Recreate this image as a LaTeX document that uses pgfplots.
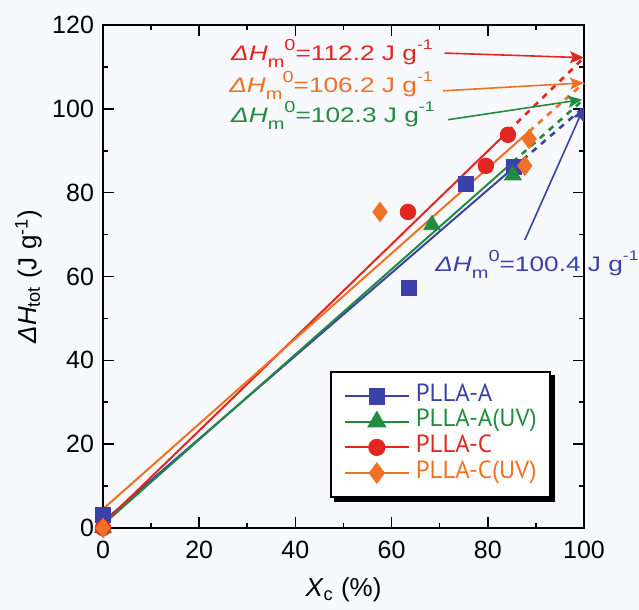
\documentclass[border=0pt]{standalone}
\usepackage{pgfplots}
\pgfplotsset{compat=1.18}
\usepackage{amsmath}
\usepackage{graphicx}
\usepackage{fontspec}
\setmainfont{Liberation Sans}
\newfontfamily\legendfont{PT Sans}
\usetikzlibrary{arrows.meta}

\definecolor{cblue}{RGB}{58,66,168}
\definecolor{cgreen}{RGB}{34,139,64}
\definecolor{cred}{RGB}{228,38,32}
\definecolor{corange}{RGB}{240,112,36}
\definecolor{bgtint}{RGB}{248,249,252}

\pgfdeclarelayer{bg}
\pgfdeclarelayer{shadowlayer}
\pgfsetlayers{bg,shadowlayer,main}

% Delta H_m^0 = value J g^-1, set a little wide
\newcommand{\dHm}[1]{\scalebox{1.25}[1]{\textit{ΔH}\raisebox{-0.33em}{\fontsize{8}{8}\selectfont m}\raisebox{0.5em}{\fontsize{8}{8}\selectfont 0}=#1 J g\raisebox{0.55em}{\fontsize{7}{7}\selectfont -1}}}

\begin{document}
\begin{tikzpicture}[x=1pt,y=1pt]
\begin{pgfonlayer}{bg}
\path[use as bounding box, fill=bgtint] (-51.5,-41) rectangle (268,264);
\end{pgfonlayer}
\begin{axis}[
  at={(0,0)}, anchor=south west,
  scale only axis, width=240.5pt, height=251.5pt,
  xmin=0, xmax=100, ymin=0, ymax=120,
  xtick={0,20,...,100}, ytick={0,20,...,120},
  minor x tick num=1, minor y tick num=1,
  tick align=inside,
  major tick length=5.5pt, minor tick length=2.5pt,
  axis line style={line width=0.8pt},
  every tick/.style={black, line width=0.8pt},
  clip=false,
  tick label style={font=\fontsize{12.5}{15}\selectfont},
  label style={font=\fontsize{13}{15}\selectfont},
  /pgf/number format/assume math mode=true,
  xticklabel shift=3pt, yticklabel shift=1pt,
  xlabel={\textit{X}$_{\text{c}}$ (\%)},
  ylabel={\textit{ΔH}$_{\text{tot}}$ (J g$^{\text{-1}}$)},
  xlabel style={at={(axis description cs:0.5,-0.123)}, anchor=center},
  ylabel style={at={(axis description cs:-0.155,0.5)}, anchor=center},
  legend cell align=left,
  legend style={
    name=leg,
    at={(axis description cs:0.472,0.060)}, anchor=south west,
    draw=black, line width=0.8pt, fill=white,
    inner xsep=6.5pt, inner ysep=6.5pt,
    /tikz/row sep=1.8pt, /tikz/column sep=3pt,
    font=\legendfont\fontsize{12.4}{14}\selectfont,
    nodes={inner sep=0pt, text height=8pt, text depth=3pt},
  },
  legend image code/.code={
    \draw[line width=1pt] (0pt,0pt) -- (32pt,0pt);
    \draw plot coordinates {(16pt,0pt)};
  },
]

% linear fits: solid over the data range, dashed extrapolation to X_c = 100 %
\addplot[cblue, line width=1pt, forget plot] coordinates {(0,1.5) (85.4,86.0)};
\addplot[cblue, line width=1.3pt, dash pattern=on 3pt off 3pt, forget plot] coordinates {(85.4,86.0) (100,100.4)};
\addplot[cgreen, line width=1pt, forget plot] coordinates {(0,0.8) (85.2,87.3)};
\addplot[cgreen, line width=1.3pt, dash pattern=on 3pt off 3pt, forget plot] coordinates {(85.2,87.3) (100,102.3)};
\addplot[cred, line width=1pt, forget plot] coordinates {(0,1.0) (84.2,94.6)};
\addplot[cred, line width=1.3pt, dash pattern=on 3pt off 3pt, forget plot] coordinates {(84.2,94.6) (100,112.2)};
\addplot[corange, line width=1pt, forget plot] coordinates {(0,4.5) (88.6,94.6)};
\addplot[corange, line width=1.3pt, dash pattern=on 3pt off 3pt, forget plot] coordinates {(88.6,94.6) (100,106.2)};

% measured points
\addplot[cblue, only marks, mark=square*, mark size=3.75pt, mark options={fill=cblue, draw=cblue}]
  coordinates {(0,3.1) (63.6,57.3) (75.5,82.0) (85.4,86.2)};
\addlegendentry{\textcolor{cblue}{PLLA-A}}
\addplot[cgreen, only marks, mark=triangle*, mark size=4.8pt, mark options={fill=cgreen, draw=cgreen}]
  coordinates {(0,0) (68.4,72.3) (85.2,84.2)};
\addlegendentry{\textcolor{cgreen}{PLLA-A(UV)}}
\addplot[cred, only marks, mark=*, mark size=3.9pt, mark options={fill=cred, draw=cred}]
  coordinates {(0,0) (63.4,75.4) (79.6,86.4) (84.2,93.8)};
\addlegendentry{\textcolor{cred}{PLLA-C}}
\addplot[corange, only marks, mark=diamond*, mark size=4.8pt, mark options={fill=corange, draw=corange}]
  coordinates {(0,0) (57.6,75.4) (87.7,86.4) (88.6,92.8)};
\addlegendentry{\textcolor{corange}{PLLA-C(UV)}}

% extrapolated melting enthalpies
\begin{scope}[font=\fontsize{10.5}{13}\selectfont, every node/.style={inner sep=0pt}]
\draw[cred, line width=0.8pt, -{Stealth[length=7pt,width=6pt,inset=1.5pt]}] (axis cs:71,113.3) -- (axis cs:100,112.2);
\node[cred, anchor=base east] at (axis cs:68.6,111.5) {\dHm{112.2}};
\draw[corange, line width=0.8pt, -{Stealth[length=7pt,width=6pt,inset=1.5pt]}] (axis cs:70.7,104.3) -- (axis cs:100,106.2);
\node[corange, anchor=base east] at (axis cs:68.6,103.8) {\dHm{106.2}};
\draw[cgreen, line width=0.8pt, -{Stealth[length=7pt,width=6pt,inset=1.5pt]}] (axis cs:71.7,97.4) -- (axis cs:99.6,102.2);
\node[cgreen, anchor=base east] at (axis cs:69.0,96.7) {\dHm{102.3}};
\draw[cblue, line width=0.8pt, -{Stealth[length=7pt,width=6pt,inset=1.5pt]}] (axis cs:87.7,68.7) -- (axis cs:100,100.4);
\node[cblue, anchor=base west] at (axis cs:69.0,61.1) {\dHm{100.4}};
\end{scope}
\end{axis}
% shadow behind the legend box
\begin{pgfonlayer}{shadowlayer}
\fill[black] ([shift={(2pt,-2pt)}]leg.south west) rectangle ([shift={(2pt,-2pt)}]leg.north east);
\end{pgfonlayer}
\end{tikzpicture}
\end{document}
